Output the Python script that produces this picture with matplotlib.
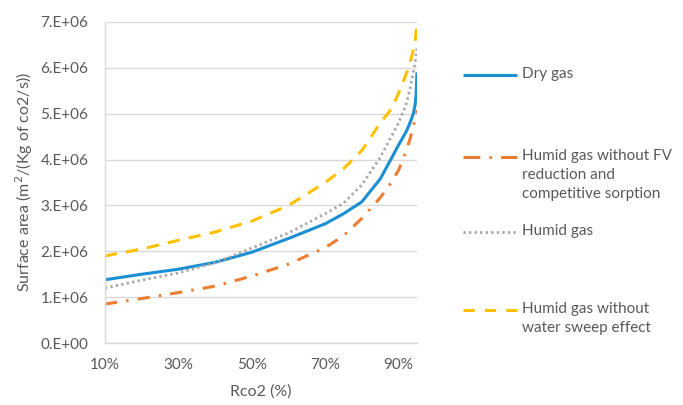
import matplotlib
matplotlib.use("Agg")
import matplotlib.pyplot as plt
from matplotlib.lines import Line2D
from matplotlib.ticker import FuncFormatter

plt.rcParams['font.family'] = ['Lato', 'DejaVu Sans']

# Rco2 fraction
rco2 = [0.10, 0.20, 0.30, 0.40, 0.50, 0.60, 0.70, 0.75, 0.80, 0.85, 0.88, 0.90, 0.92, 0.93, 0.94, 0.945, 0.948, 0.95]

# surface area, in units of 1e6 m2/(kg co2/s)
dry_gas = [1.38, 1.50, 1.61, 1.76, 1.98, 2.28, 2.60, 2.82, 3.08, 3.58, 4.02, 4.32, 4.60, 4.78, 5.00, 5.20, 5.45, 5.90]
humid_no_fv = [0.85, 0.97, 1.10, 1.24, 1.46, 1.72, 2.08, 2.34, 2.72, 3.17, 3.50, 3.77, 4.18, 4.42, 4.72, 4.88, 4.98, 5.08]
humid_gas = [1.20, 1.37, 1.53, 1.75, 2.07, 2.40, 2.82, 3.05, 3.45, 4.05, 4.50, 4.80, 5.20, 5.50, 5.90, 6.12, 6.28, 6.42]
humid_no_sweep = [1.90, 2.05, 2.24, 2.42, 2.66, 3.00, 3.50, 3.80, 4.20, 4.80, 5.10, 5.45, 5.85, 6.08, 6.38, 6.60, 6.80, 7.00]

labels = ['Dry gas',
          'Humid gas without FV\nreduction and\ncompetitive sorption',
          'Humid gas',
          'Humid gas without\nwater sweep effect']

txt = '#595959'
grid_c = '#D9D9D9'

fig = plt.figure(figsize=(6.83, 4.05), dpi=100)
ax = fig.add_axes([0.1537, 0.153, 0.4568, 0.7927])

def mil(v):
    return [x * 1e6 for x in v]

l1, = ax.plot(rco2, mil(dry_gas), color='#1B8FD2', lw=2.2, solid_capstyle='butt')
l2, = ax.plot(rco2, mil(humid_no_fv), color='#ED7D31', lw=2.2, linestyle=(0, (4, 3, 0.8, 3)))
l3, = ax.plot(rco2, mil(humid_gas), color='#A5A5A5', lw=2.0, linestyle=(0, (0.8, 1.2)))
l4, = ax.plot(rco2, mil(humid_no_sweep), color='#FFC000', lw=2.2, linestyle=(0, (4, 3)))

ax.set_xlim(0.10, 0.95)
ax.set_ylim(0, 7e6)
ax.set_xticks([0.1, 0.3, 0.5, 0.7, 0.9])
ax.set_yticks([i * 1e6 for i in range(8)])
ax.xaxis.set_major_formatter(FuncFormatter(lambda v, p: '%d%%' % round(v * 100)))
ax.yaxis.set_major_formatter(FuncFormatter(lambda v, p: '%d.E+%02d' % (round(v / 1e6), 6) if v else '0.E+00'))
ax.tick_params(length=0, labelsize=11, labelcolor=txt)
ax.tick_params(axis='y', pad=12)
ax.tick_params(axis='x', pad=11)
ax.grid(axis='y', color=grid_c, lw=1)
ax.set_axisbelow(True)
for s in ['top', 'right']:
    ax.spines[s].set_visible(False)
for s in ['left', 'bottom']:
    ax.spines[s].set_color(grid_c)
    ax.spines[s].set_linewidth(1)

ax.set_xlabel('Rco2 (%)', fontsize=11.5, color=txt, labelpad=9)
ax.set_ylabel('Surface area (m$^2$/(Kg of co2/s))', fontsize=11.5, color=txt, labelpad=4)

# legend, drawn at the right like the Excel one
leg_y = [75, 157, 232, 310]
leg_styles = ['-', (0, (5.5, 3, 0.8, 3)), (0, (0.8, 1.2)), (0, (3.7, 3.3))]
for line, lab, y, ls in zip([l1, l2, l3, l4], labels, leg_y, leg_styles):
    fy = 1 - y / 405
    fig.add_artist(Line2D([463 / 683, 517 / 683], [fy, fy], color=line.get_color(),
                          lw=line.get_linewidth(), linestyle=ls, solid_capstyle='butt'))
    fig.text(522 / 683, fy + 8 / 405, lab, fontsize=11, color=txt, va='top', ha='left',
             linespacing=1.45)

fig.savefig('out.png', dpi=100, facecolor='white')
